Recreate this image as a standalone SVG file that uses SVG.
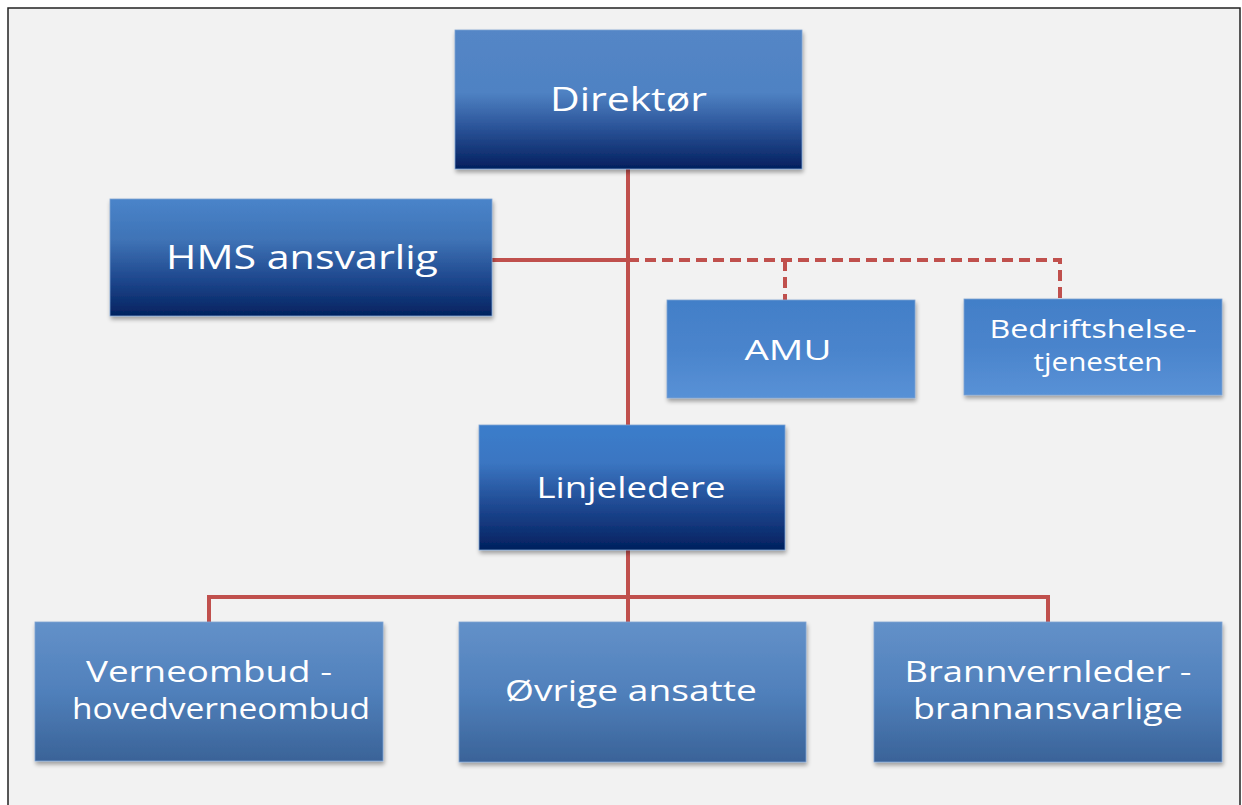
<svg xmlns="http://www.w3.org/2000/svg" width="1242" height="805" viewBox="0 0 1242 805">
<defs>
<linearGradient id="gDark" x1="0" y1="0" x2="0" y2="1">
<stop offset="0" stop-color="#5486c6"/>
<stop offset="0.45" stop-color="#4f82c3"/>
<stop offset="0.7" stop-color="#2b5499"/>
<stop offset="1" stop-color="#031f5e"/>
</linearGradient>
<linearGradient id="gHms" x1="0" y1="0" x2="0" y2="1">
<stop offset="0" stop-color="#4984ca"/>
<stop offset="0.35" stop-color="#3f73b6"/>
<stop offset="0.7" stop-color="#1d468c"/>
<stop offset="1" stop-color="#03225f"/>
</linearGradient>
<linearGradient id="gLin" x1="0" y1="0" x2="0" y2="1">
<stop offset="0" stop-color="#3b7dcb"/>
<stop offset="0.3" stop-color="#3b76c2"/>
<stop offset="0.7" stop-color="#1a428a"/>
<stop offset="1" stop-color="#02205e"/>
</linearGradient>
<linearGradient id="gLight" x1="0" y1="0" x2="0" y2="1">
<stop offset="0" stop-color="#427fc8"/>
<stop offset="0.5" stop-color="#4a84cc"/>
<stop offset="1" stop-color="#5891d6"/>
</linearGradient>
<linearGradient id="gBot" x1="0" y1="0" x2="0" y2="1">
<stop offset="0" stop-color="#6391c9"/>
<stop offset="0.5" stop-color="#5080bb"/>
<stop offset="1" stop-color="#3a6398"/>
</linearGradient>
<filter id="sh" x="-5%" y="-5%" width="112%" height="118%">
<feGaussianBlur in="SourceAlpha" stdDeviation="2"/>
<feOffset dx="1" dy="3"/>
<feComponentTransfer><feFuncA type="linear" slope="0.35"/></feComponentTransfer>
<feMerge><feMergeNode/><feMergeNode in="SourceGraphic"/></feMerge>
</filter>
</defs>
<style>
.box{filter:url(#sh);stroke:#7ea3d3;stroke-width:0.8}
.t{font-family:"Open Sans","Noto Sans","Liberation Sans",sans-serif;fill:#ffffff;text-anchor:middle}
.ln{stroke:#c0504d;stroke-width:4;fill:none}
.dash{stroke:#c0504d;stroke-width:4;fill:none;stroke-dasharray:11,6}
</style>
<rect x="0" y="0" width="1242" height="805" fill="#ffffff"/>
<rect x="8" y="8" width="1232" height="800" fill="#f2f2f2" stroke="#222222" stroke-width="1.5"/>

<g id="connectors">
<path class="ln" d="M628,169 V425"/>
<path class="ln" d="M492,260 H628"/>
<path class="dash" d="M628,260 H1060 V299"/>
<path class="dash" d="M785,260 V300"/>
<path class="ln" d="M628,550 V622"/>
<path class="ln" d="M209,622 V597 H1048 V622"/>
</g>

<g id="direktor">
<rect class="box" x="455" y="30" width="347" height="139" fill="url(#gDark)"/>
<text class="t" x="628.5" y="111" font-size="33" textLength="157" lengthAdjust="spacingAndGlyphs">Direktør</text>
</g>
<g id="hms">
<rect class="box" x="110" y="199" width="382" height="117" fill="url(#gHms)"/>
<text class="t" x="302" y="269" font-size="33" textLength="272" lengthAdjust="spacingAndGlyphs">HMS ansvarlig</text>
</g>
<g id="amu">
<rect class="box" x="667" y="300" width="248" height="98" fill="url(#gLight)"/>
<text class="t" x="788" y="360" font-size="28" textLength="87" lengthAdjust="spacingAndGlyphs">AMU</text>
</g>
<g id="bedrift">
<rect class="box" x="964" y="299" width="258" height="96" fill="url(#gLight)"/>
<text class="t" x="1093" y="338" font-size="26" textLength="207" lengthAdjust="spacingAndGlyphs">Bedriftshelse-</text>
<text class="t" x="1098" y="371" font-size="26" textLength="129" lengthAdjust="spacingAndGlyphs">tjenesten</text>
</g>
<g id="linjeledere">
<rect class="box" x="479" y="425" width="306" height="125" fill="url(#gLin)"/>
<text class="t" x="631" y="498" font-size="29" textLength="189" lengthAdjust="spacingAndGlyphs">Linjeledere</text>
</g>
<g id="verneombud">
<rect class="box" x="35" y="622" width="348" height="139" fill="url(#gBot)"/>
<text class="t" x="209" y="682" font-size="30" textLength="246" lengthAdjust="spacingAndGlyphs">Verneombud -</text>
<text class="t" x="221" y="719" font-size="30" textLength="298" lengthAdjust="spacingAndGlyphs">hovedverneombud</text>
</g>
<g id="ovrige">
<rect class="box" x="459" y="622" width="347" height="140" fill="url(#gBot)"/>
<text class="t" x="631" y="701" font-size="30" textLength="252" lengthAdjust="spacingAndGlyphs">Øvrige ansatte</text>
</g>
<g id="brannvern">
<rect class="box" x="874" y="622" width="348" height="140" fill="url(#gBot)"/>
<text class="t" x="1048" y="682" font-size="30" textLength="287" lengthAdjust="spacingAndGlyphs">Brannvernleder -</text>
<text class="t" x="1048" y="719" font-size="30" textLength="270" lengthAdjust="spacingAndGlyphs">brannansvarlige</text>
</g>
</svg>
